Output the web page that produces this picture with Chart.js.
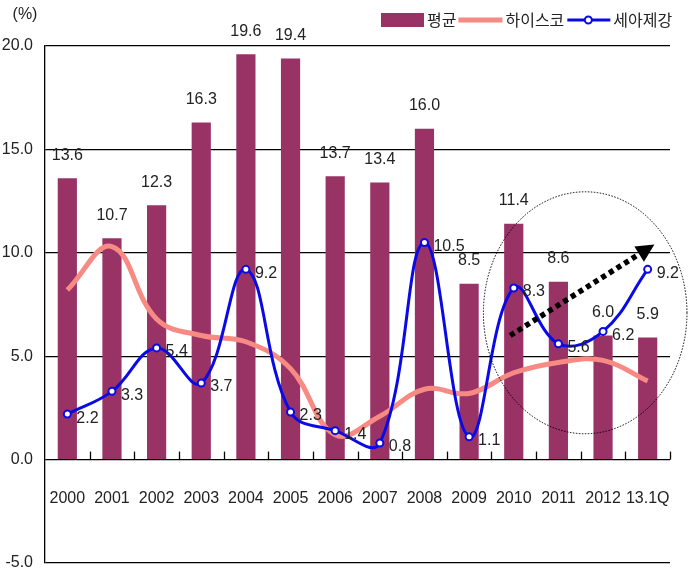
<!DOCTYPE html>
<html>
<head>
<meta charset="utf-8">
<script src="https://cdn.jsdelivr.net/npm/chart.js@4.4.1/dist/chart.umd.min.js"></script>
<style>
html, body { margin: 0; padding: 0; background: #fff; }
</style>
</head>
<body>
<canvas id="grafica" width="697" height="581"></canvas>
<script>
// datos
const categorias = ['2000', '2001', '2002', '2003', '2004', '2005', '2006', '2007', '2008', '2009', '2010', '2011', '2012', '13.1Q'];
const promedio = [13.6, 10.7, 12.3, 16.3, 19.6, 19.4, 13.7, 13.4, 16.0, 8.5, 11.4, 8.6, 6.0, 5.9];   // 평균
const hysco = [8.2, 10.3, 6.8, 6.0, 5.7, 4.4, 1.2, 2.1, 3.4, 3.2, 4.2, 4.7, 4.8, 3.8];              // 하이스코
const seah = [2.2, 3.3, 5.4, 3.7, 9.2, 2.3, 1.4, 0.8, 10.5, 1.1, 8.3, 5.6, 6.2, 9.2];               // 세아제강
const ticksY = [-5, 0, 5, 10, 15, 20];
const nombres = ['평균', '하이스코', '세아제강'];

const FUENTE = "'Liberation Sans', 'Noto Sans CJK KR', sans-serif";
const FUENTE_KR = "'Noto Sans CJK KR', 'Liberation Sans', sans-serif";
const COLOR_BAR = '#993366';
const COLOR_ROSA = '#F78A82';
const COLOR_AZUL = '#0a0ae6';
const COLOR_TXT = '#222';

// etiquetas de valores, marcas del eje x, leyenda y anotaciones
const extras = {
    id: 'extras',
    afterDatasetsDraw(chart) {
        const ctx = chart.ctx;
        ctx.save();
        ctx.font = '16px ' + FUENTE;
        ctx.fillStyle = COLOR_TXT;
        ctx.textBaseline = 'middle';

        // barras: valor centrado encima
        ctx.textAlign = 'center';
        chart.getDatasetMeta(0).data.forEach((el, i) => {
            ctx.fillText(promedio[i].toFixed(1), el.x, el.y - 23);
        });
        // 세아제강: valor a la derecha del punto
        ctx.textAlign = 'left';
        chart.getDatasetMeta(2).data.forEach((el, i) => {
            ctx.fillText(seah[i].toFixed(1), el.x + 9, el.y + 4);
        });
        ctx.restore();
    },
    afterDraw(chart) {
        const ctx = chart.ctx;
        const x = chart.scales.x;
        const y = chart.scales.y;
        const y0 = y.getPixelForValue(0);
        ctx.save();

        // marcas hacia arriba entre categorías
        ctx.strokeStyle = '#000';
        ctx.lineWidth = 1.3;
        const paso = x.getPixelForValue(1) - x.getPixelForValue(0);
        for (let i = 0; i < categorias.length; i++) {
            const px = Math.round(x.getPixelForValue(i) + paso / 2) + 0.5;
            ctx.beginPath();
            ctx.moveTo(px, y0);
            ctx.lineTo(px, y0 - 8);
            ctx.stroke();
        }

        // (%)
        ctx.font = '16px ' + FUENTE;
        ctx.fillStyle = COLOR_TXT;
        ctx.textAlign = 'center';
        ctx.textBaseline = 'middle';
        ctx.fillText('(%)', 25, 15);

        // leyenda
        ctx.font = '16px ' + FUENTE_KR;
        ctx.textAlign = 'left';
        let lx = 381;
        const ly = 20;
        ctx.fillStyle = COLOR_BAR;
        ctx.fillRect(lx, ly - 7, 43, 14);
        lx += 46;
        ctx.fillStyle = COLOR_TXT;
        ctx.fillText(nombres[0], lx, ly);
        lx += ctx.measureText(nombres[0]).width + 2;
        ctx.strokeStyle = COLOR_ROSA;
        ctx.lineWidth = 5;
        ctx.beginPath(); ctx.moveTo(lx, ly); ctx.lineTo(lx + 44, ly); ctx.stroke();
        lx += 47;
        ctx.fillText(nombres[1], lx, ly);
        lx += ctx.measureText(nombres[1]).width + 3;
        ctx.strokeStyle = COLOR_AZUL;
        ctx.lineWidth = 3;
        ctx.beginPath(); ctx.moveTo(lx, ly); ctx.lineTo(lx + 43, ly); ctx.stroke();
        ctx.fillStyle = '#fff';
        ctx.lineWidth = 2;
        ctx.beginPath(); ctx.arc(lx + 21, ly, 3.5, 0, Math.PI * 2); ctx.fill(); ctx.stroke();
        lx += 46;
        ctx.fillStyle = COLOR_TXT;
        ctx.fillText(nombres[2], lx, ly);

        // elipse punteada
        const cx = x.getPixelForValue(11.6), cy = y.getPixelForValue(7.1);
        const rx = x.getPixelForValue(11.6 + 2.28) - cx;
        const ry = cy - y.getPixelForValue(7.1 + 5.85);
        ctx.strokeStyle = '#000';
        ctx.lineWidth = 1;
        ctx.setLineDash([1.5, 1.5]);
        ctx.beginPath();
        ctx.ellipse(cx, cy, rx, ry, 0, 0, Math.PI * 2);
        ctx.stroke();

        // flecha
        const ax = x.getPixelForValue(9.92), ay = y.getPixelForValue(6.0);
        const bx = x.getPixelForValue(13.15), by = y.getPixelForValue(10.4);
        const ang = Math.atan2(by - ay, bx - ax);
        const largo = 18, ancho = 9;
        const baseX = bx - largo * Math.cos(ang), baseY = by - largo * Math.sin(ang);
        ctx.setLineDash([5, 4]);
        ctx.lineWidth = 5.5;
        ctx.beginPath(); ctx.moveTo(ax, ay); ctx.lineTo(baseX, baseY); ctx.stroke();
        ctx.setLineDash([]);
        ctx.fillStyle = '#000';
        ctx.beginPath();
        ctx.moveTo(bx, by);
        ctx.lineTo(baseX + ancho * Math.sin(ang), baseY - ancho * Math.cos(ang));
        ctx.lineTo(baseX - ancho * Math.sin(ang), baseY + ancho * Math.cos(ang));
        ctx.closePath();
        ctx.fill();

        ctx.restore();
    }
};

const ctx = document.getElementById('grafica').getContext('2d');
const chart = new Chart(ctx, {
    type: 'bar',
    data: {
        labels: categorias,
        datasets: [
            {
                type: 'bar',
                label: nombres[0],
                data: promedio,
                backgroundColor: COLOR_BAR,
                barPercentage: 0.43,
                categoryPercentage: 1,
                order: 3
            },
            {
                type: 'line',
                label: nombres[1],
                data: hysco,
                borderColor: COLOR_ROSA,
                borderWidth: 5,
                tension: 0.4,
                pointRadius: 0,
                fill: false,
                order: 2
            },
            {
                type: 'line',
                label: nombres[2],
                data: seah,
                borderColor: COLOR_AZUL,
                borderWidth: 3,
                tension: 0.4,
                pointRadius: 3.5,
                pointBorderWidth: 2,
                pointBackgroundColor: '#fff',
                pointBorderColor: COLOR_AZUL,
                fill: false,
                order: 1
            }
        ]
    },
    options: {
        responsive: false,
        animation: false,
        devicePixelRatio: 1,
        layout: { padding: { top: 46, right: 27, bottom: 18, left: 0 } },
        plugins: {
            legend: { display: false },
            tooltip: { enabled: false }
        },
        scales: {
            x: {
                position: { y: 0 },
                grid: { display: false },
                border: { display: false },
                ticks: {
                    color: COLOR_TXT,
                    font: { family: FUENTE, size: 16 },
                    padding: 21,
                    maxRotation: 0,
                    autoSkip: false
                }
            },
            y: {
                min: -5,
                max: 20,
                afterFit(scale) {
                    scale.width = 45;
                    scale.paddingTop = 0;
                    scale.paddingBottom = 0;
                },
                afterBuildTicks(scale) { scale.ticks = ticksY.map(v => ({ value: v })); },
                grid: { color: '#000', lineWidth: 1.3, drawTicks: false },
                border: { display: true, color: '#000', width: 1.3 },
                ticks: {
                    color: COLOR_TXT,
                    font: { family: FUENTE, size: 16 },
                    padding: 12,
                    callback: v => Number(v).toFixed(1)
                }
            }
        }
    },
    plugins: [extras]
});
</script>
</body>
</html>
